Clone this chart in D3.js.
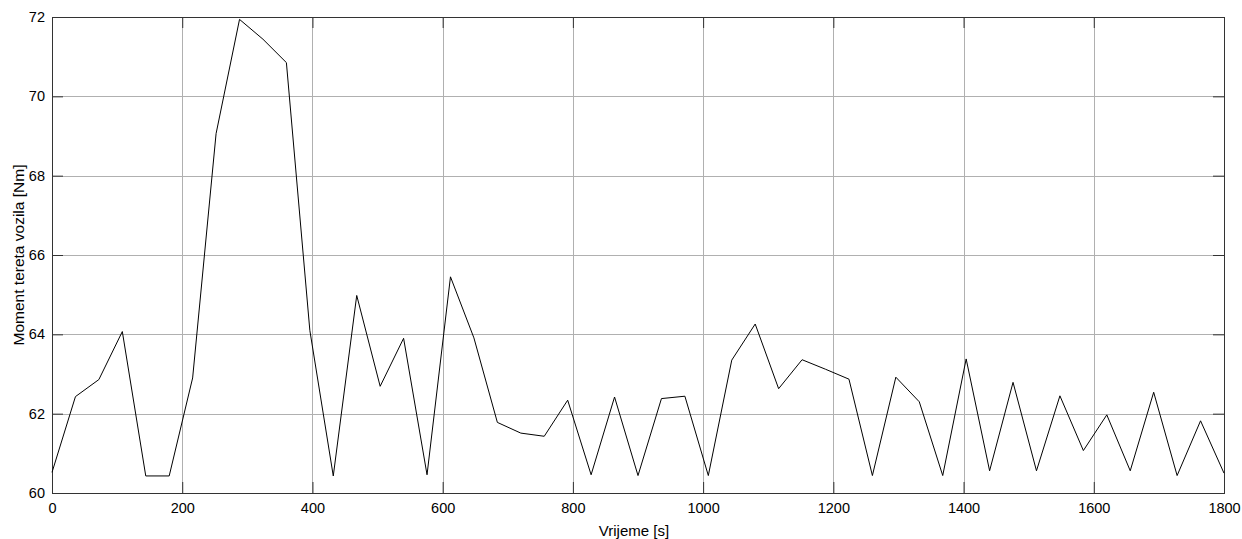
<!DOCTYPE html>
<html>
<head>
<meta charset="utf-8">
<script src="https://cdn.jsdelivr.net/npm/d3@7"></script>
<style>
  body { margin: 0; background: #fff; }
  svg text { font-family: "Liberation Sans", Arial, sans-serif; fill: #000; }
</style>
</head>
<body>
<div id="chart"></div>
<script>
// data (time step 36 s)
const times = d3.range(0, 1801, 36);
const torque = [
  60.52, 62.43, 62.86, 64.07, 60.43, 60.43, 62.9, 69.06, 71.94, 71.44,
  70.85, 64.1, 60.43, 64.98, 62.69, 63.9, 60.46, 65.45, 63.91, 61.78,
  61.51, 61.43, 62.34, 60.46, 62.42, 60.44, 62.38, 62.44, 60.44, 63.35,
  64.26, 62.63, 63.36, 63.12, 62.87, 60.44, 62.92, 62.3, 60.44, 63.38,
  60.56, 62.79, 60.56, 62.45, 61.07, 61.97, 60.56, 62.54, 60.44, 61.82,
  60.5
];
const xTicks = [0, 200, 400, 600, 800, 1000, 1200, 1400, 1600, 1800];
const yTicks = [60, 62, 64, 66, 68, 70, 72];

const width = 1242, height = 539;
const margin = { top: 17, right: 18, bottom: 46, left: 52 };
const innerW = width - margin.left - margin.right;
const innerH = height - margin.top - margin.bottom;
const tickLen = 11;

const svg = d3.select('#chart').append('svg')
  .attr('width', width).attr('height', height);

const g = svg.append('g').attr('transform', `translate(${margin.left},${margin.top})`);

const x = d3.scaleLinear().domain([0, 1800]).range([0, innerW]);
const y = d3.scaleLinear().domain([60, 72]).range([innerH, 0]);

// grid
g.append('g').selectAll('line').data(xTicks).join('line')
  .attr('x1', d => Math.round(x(d)) + 0.5).attr('x2', d => Math.round(x(d)) + 0.5)
  .attr('y1', 0).attr('y2', innerH)
  .attr('stroke', '#b0b0b0').attr('stroke-width', 1);
g.append('g').selectAll('line').data(yTicks).join('line')
  .attr('y1', d => Math.round(y(d)) + 0.5).attr('y2', d => Math.round(y(d)) + 0.5)
  .attr('x1', 0).attr('x2', innerW)
  .attr('stroke', '#b0b0b0').attr('stroke-width', 1);

// axes with inward ticks
const fmt = d3.format('d');
g.append('g').attr('transform', `translate(0,${innerH})`)
  .call(d3.axisBottom(x).tickValues(xTicks).tickFormat(fmt).tickSizeInner(-tickLen).tickSizeOuter(0).tickPadding(10));
g.append('g')
  .call(d3.axisLeft(y).tickValues(yTicks).tickFormat(fmt).tickSizeInner(-tickLen).tickSizeOuter(0).tickPadding(7));
g.append('g')
  .call(d3.axisTop(x).tickValues(xTicks).tickSizeInner(-tickLen).tickSizeOuter(0).tickFormat(''));
g.append('g').attr('transform', `translate(${innerW},0)`)
  .call(d3.axisRight(y).tickValues(yTicks).tickSizeInner(-tickLen).tickSizeOuter(0).tickFormat(''));

g.selectAll('.domain').remove();
g.selectAll('.tick line').attr('stroke', '#333');
g.selectAll('.tick text').style('font-size', '14.5px');

// frame
g.append('rect')
  .attr('x', 0.5).attr('y', 0.5).attr('width', innerW).attr('height', innerH)
  .attr('fill', 'none').attr('stroke', '#333').attr('stroke-width', 1);

// line
const line = d3.line().x((d, i) => x(times[i])).y(d => y(d));
g.append('path').datum(torque)
  .attr('d', line)
  .attr('fill', 'none').attr('stroke', '#000').attr('stroke-width', 1);

// labels
svg.append('text')
  .attr('x', margin.left + innerW / 2 - 4).attr('y', 536)
  .attr('text-anchor', 'middle').style('font-size', '15px')
  .text('Vrijeme [s]');
svg.append('text')
  .attr('transform', `translate(24,${margin.top + innerH / 2}) rotate(-90)`)
  .attr('text-anchor', 'middle').style('font-size', '15.5px')
  .text('Moment tereta vozila [Nm]');
</script>
</body>
</html>
